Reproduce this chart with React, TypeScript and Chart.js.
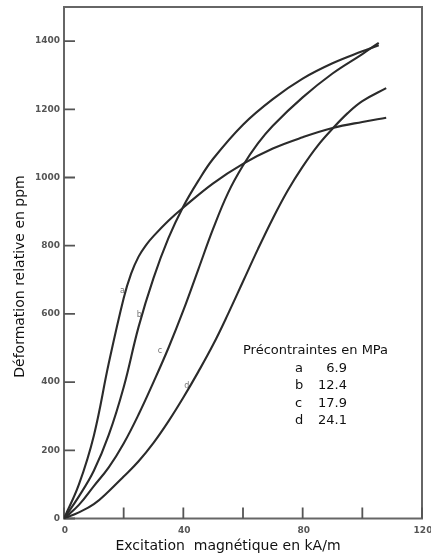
import React, { useEffect, useRef } from 'react';
import { Chart, registerables } from 'chart.js';

Chart.register(...registerables);

// ---- Data ----
const curveAX = [0, 5, 10, 15, 20, 22.5, 25, 27.5, 30, 35, 40, 50, 60, 70, 80, 90, 100, 108];
const curveAY = [0, 100, 243, 455, 646, 718, 768, 802, 828, 873, 912, 983, 1040, 1085, 1118, 1145, 1163, 1175];

const curveBX = [0, 5, 10, 15, 20, 25, 30, 35, 40, 45, 50, 60, 70, 80, 90, 100, 105.5];
const curveBY = [0, 65, 140, 245, 385, 562, 705, 822, 915, 990, 1055, 1155, 1230, 1290, 1335, 1370, 1388];

const curveCX = [0, 5, 10, 15, 20, 25, 30, 35, 40, 45, 50, 55, 60, 65, 70, 80, 90, 100, 105.5];
const curveCY = [0, 40, 95, 150, 220, 305, 400, 500, 610, 730, 850, 955, 1035, 1100, 1152, 1235, 1305, 1362, 1395];

const curveDX = [0, 5, 10, 15, 20, 25, 30, 35, 40, 45, 50, 55, 60, 65, 70, 75, 80, 85, 90, 95, 100, 108];
const curveDY = [0, 18, 42, 80, 123, 168, 222, 285, 355, 430, 510, 600, 695, 790, 880, 962, 1032, 1093, 1143, 1188, 1224, 1262];

const xTickValues = [0, 20, 40, 60, 80, 100, 120];
const xTickLabelValues = [0, 40, 80, 120];
const yTickValues = [0, 200, 400, 600, 800, 1000, 1200, 1400];

const curveLabelNames = ['a', 'b', 'c', 'd'];
const curveLabelX = [19.6, 25.2, 32.2, 41.2];
const curveLabelY = [668, 598, 490, 388];

const legendTitle = 'Précontraintes en MPa';
const legendKeys = ['a', 'b', 'c', 'd'];
const legendValues = ['6.9', '12.4', '17.9', '24.1'];

const xTitle = 'Excitation  magnétique en kA/m';
const yTitle = 'Déformation relative en ppm';

const FONT = '"DejaVu Sans", sans-serif';

function toPoints(xs: number[], ys: number[]) {
  return xs.map((x, i) => ({ x, y: ys[i] }));
}

const decorPlugin = {
  id: 'decor',
  beforeDatasetsDraw(chart: any) {
    const { ctx, chartArea: ca, scales } = chart;
    const x = scales.x;
    const y = scales.y;
    ctx.save();
    // frame
    ctx.strokeStyle = '#666';
    ctx.lineWidth = 2;
    ctx.strokeRect(ca.left, ca.top, ca.right - ca.left, ca.bottom - ca.top);
    // inward ticks
    ctx.strokeStyle = '#555';
    ctx.lineWidth = 1.8;
    ctx.beginPath();
    for (const v of xTickValues) {
      const px = x.getPixelForValue(v);
      ctx.moveTo(px, ca.bottom);
      ctx.lineTo(px, ca.bottom - 11);
    }
    for (const v of yTickValues) {
      const py = y.getPixelForValue(v);
      ctx.moveTo(ca.left, py);
      ctx.lineTo(ca.left + 11, py);
    }
    ctx.stroke();

    // tick labels
    ctx.fillStyle = '#555';
    ctx.font = `bold 9px ${FONT}`;
    ctx.textAlign = 'right';
    ctx.textBaseline = 'middle';
    for (const v of yTickValues) {
      ctx.fillText(String(v), ca.left - 4, y.getPixelForValue(v));
    }
    ctx.textAlign = 'center';
    for (const v of xTickLabelValues) {
      ctx.fillText(String(v), x.getPixelForValue(v) + 1, ca.bottom + 12);
    }

    // axis titles
    ctx.fillStyle = '#111';
    ctx.font = `14px ${FONT}`;
    ctx.textAlign = 'center';
    ctx.textBaseline = 'alphabetic';
    ctx.fillText(xTitle, ca.left + 164, ca.bottom + 31);
    ctx.save();
    ctx.translate(23.5, 276.5);
    ctx.rotate(-Math.PI / 2);
    ctx.fillText(yTitle, 0, 0);
    ctx.restore();

    // curve labels
    ctx.fillStyle = '#777';
    ctx.font = `8px ${FONT}`;
    ctx.textAlign = 'center';
    ctx.textBaseline = 'middle';
    curveLabelNames.forEach((n, i) => {
      ctx.fillText(n, x.getPixelForValue(curveLabelX[i]), y.getPixelForValue(curveLabelY[i]));
    });

    // legend text block
    ctx.fillStyle = '#111';
    ctx.font = `13px ${FONT}`;
    ctx.textBaseline = 'alphabetic';
    ctx.textAlign = 'left';
    const lx = ca.left + 179;
    const ly = 354;
    ctx.fillText(legendTitle, lx, ly);
    legendKeys.forEach((k, i) => {
      const by = ly + 17.6 * (i + 1);
      ctx.textAlign = 'left';
      ctx.fillText(k, lx + 52, by);
      ctx.textAlign = 'right';
      ctx.fillText(legendValues[i], lx + 104, by);
    });
    ctx.restore();
  },
};

export default function App() {
  const canvasRef = useRef<HTMLCanvasElement | null>(null);

  useEffect(() => {
    const canvas = canvasRef.current;
    if (!canvas) return;
    const ds = (xs: number[], ys: number[]) => ({
      data: toPoints(xs, ys),
      borderColor: '#2b2b2b',
      borderWidth: 2.1,
      pointRadius: 0,
      fill: false,
      tension: 0.4,
    });
    const chart = new Chart(canvas, {
      type: 'line',
      data: {
        datasets: [
          ds(curveAX, curveAY),
          ds(curveBX, curveBY),
          ds(curveCX, curveCY),
          ds(curveDX, curveDY),
        ],
      },
      options: {
        animation: false,
        responsive: false,
        devicePixelRatio: window.devicePixelRatio || 1,
        layout: { padding: { left: 64, right: 9, top: 7, bottom: 37.5 } },
        scales: {
          x: { type: 'linear', min: 0, max: 120, display: false },
          y: { type: 'linear', min: 0, max: 1500, display: false },
        },
        plugins: {
          legend: { display: false },
          tooltip: { enabled: false },
        },
      },
      plugins: [decorPlugin],
    });
    return () => chart.destroy();
  }, []);

  return (
    <div style={{ position: 'absolute', left: 0, top: 0, width: 431, height: 556, background: '#fff' }}>
      <canvas ref={canvasRef} width={431} height={556} style={{ width: 431, height: 556 }} />
    </div>
  );
}
